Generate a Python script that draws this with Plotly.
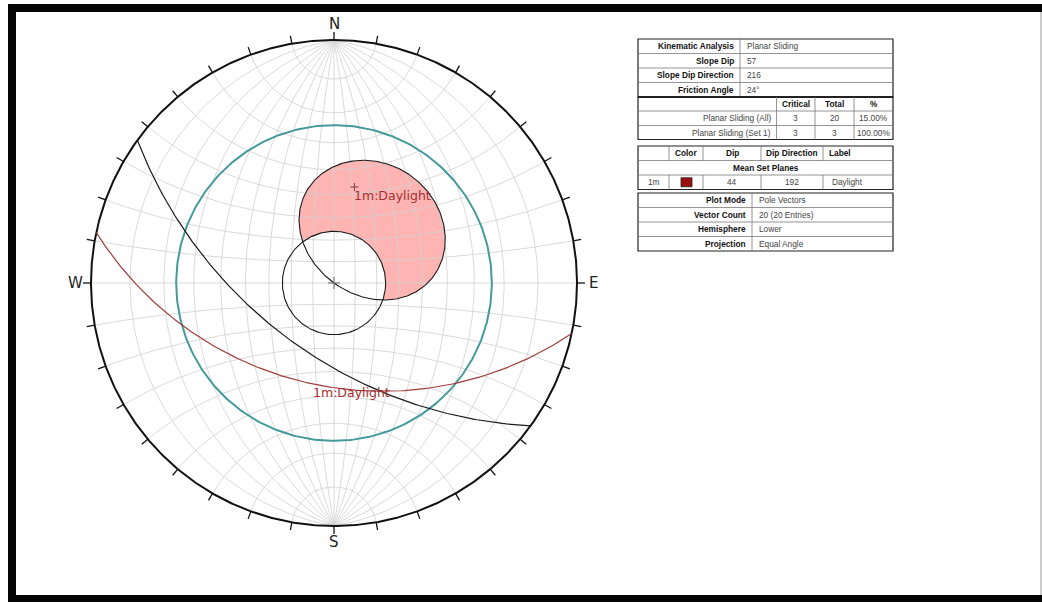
import numpy as np
import plotly.graph_objects as go

# ---------------- data ----------------
slope_dip = 57
slope_dip_dir = 216
friction_angle = 24
set_id = "1m"
set_dip = 44
set_dip_dir = 192
set_label = "Daylight"
set_color = "#9b0f0f"
info_labels = ["Kinematic Analysis", "Slope Dip", "Slope Dip Direction", "Friction Angle"]
info_values = ["Planar Sliding", "57", "216", "24°"]
crit_header = ["Critical", "Total", "%"]
crit_rows = ["Planar Sliding (All)", "Planar Sliding (Set 1)"]
crit_critical = [3, 3]
crit_total = [20, 3]
crit_pct = ["15.00%", "100.00%"]
set_header = ["Color", "Dip", "Dip Direction", "Label"]
plot_labels = ["Plot Mode", "Vector Count", "Hemisphere", "Projection"]
plot_values = ["Pole Vectors", "20 (20 Entries)", "Lower", "Equal Angle"]
compass = ["N", "E", "S", "W"]
grid_step = 10
tick_step = 10

# ---------------- geometry helpers ----------------
W, H = 1042, 602
CX, CY, R = 334, 283, 243  # stereonet centre / radius in pixels


def line_vec(trend, plunge):
    t, p = np.radians(trend), np.radians(plunge)
    return np.stack([np.cos(p) * np.sin(t), np.cos(p) * np.cos(t), np.sin(p)], axis=-1)


def proj(v):
    v = np.asarray(v, float)
    v = v / np.linalg.norm(v, axis=-1, keepdims=True)
    s = np.where(v[..., 2] < 0, -1.0, 1.0)
    v = v * s[..., None]
    return v[..., 0] / (1 + v[..., 2]), v[..., 1] / (1 + v[..., 2])


def great_circle(dd, dip, n=181):
    s = line_vec(dd - 90, 0.0)
    d = line_vec(dd, dip)
    th = np.linspace(0, np.pi, n)[:, None]
    return proj(np.cos(th) * s + np.sin(th) * d)


def small_circle(axis, u, w, beta, phi0, phi1, n=181):
    b = np.radians(beta)
    ph = np.linspace(phi0, phi1, n)[:, None]
    v = np.cos(b) * axis + np.sin(b) * (np.cos(ph) * u + np.sin(ph) * w)
    return proj(v)


def join(segs):
    xs, ys = [], []
    for x, y in segs:
        xs += list(x) + [None]
        ys += list(y) + [None]
    return xs, ys


fig = go.Figure()

# daylight envelope (poles of planes whose dip vector lies in the slope face)
th = np.radians(np.linspace(-90, 90, 361))
app = np.degrees(np.arctan(np.tan(np.radians(slope_dip)) * np.cos(th)))
env_tr = slope_dip_dir + np.degrees(th) + 180
env_x, env_y = proj(line_vec(env_tr, 90 - app))

# friction cone
fc_x, fc_y = small_circle(np.array([0, 0, 1.0]), np.array([1.0, 0, 0]), np.array([0, 1.0, 0]),
                          friction_angle, 0, 2 * np.pi, 241)
# second cone (90 - friction)
tc_x, tc_y = small_circle(np.array([0, 0, 1.0]), np.array([1.0, 0, 0]), np.array([0, 1.0, 0]),
                          90 - friction_angle, 0, 2 * np.pi, 361)

fig.add_trace(go.Scatter(x=env_x, y=env_y, mode="lines", fill="toself", fillcolor="#ffb4b4",
                         line=dict(width=0), hoverinfo="skip"))
fig.add_trace(go.Scatter(x=fc_x, y=fc_y, mode="lines", fill="toself", fillcolor="white",
                         line=dict(width=0), hoverinfo="skip"))

# Wulff net grid
segs = []
for dip in range(grid_step, 90, grid_step):
    segs.append(great_circle(90, dip))
    segs.append(great_circle(270, dip))
segs.append(great_circle(90, 90))
N = np.array([0, 1.0, 0]); E = np.array([1.0, 0, 0]); D = np.array([0, 0, 1.0])
for beta in range(grid_step, 180, grid_step):
    segs.append(small_circle(N, E, D, beta, 0, np.pi))
gx, gy = join(segs)
fig.add_trace(go.Scatter(x=gx, y=gy, mode="lines", line=dict(color="#d0d0d0", width=0.8),
                         hoverinfo="skip"))

# primitive and ticks
pa = np.radians(np.linspace(0, 360, 721))
fig.add_trace(go.Scatter(x=np.sin(pa), y=np.cos(pa), mode="lines",
                         line=dict(color="#111111", width=2), hoverinfo="skip"))
tl = 8 / R
tsegs = []
for az in range(0, 360, tick_step):
    a = np.radians(az)
    tsegs.append(([np.sin(a), (1 + tl) * np.sin(a)], [np.cos(a), (1 + tl) * np.cos(a)]))
tx, ty = join(tsegs)
fig.add_trace(go.Scatter(x=tx, y=ty, mode="lines", line=dict(color="#111111", width=1.3),
                         hoverinfo="skip"))

# circles and great circles
fig.add_trace(go.Scatter(x=tc_x, y=tc_y, mode="lines", line=dict(color="#449a9a", width=2),
                         hoverinfo="skip"))
fig.add_trace(go.Scatter(x=fc_x, y=fc_y, mode="lines", line=dict(color="#1a1a1a", width=1.1),
                         hoverinfo="skip"))
fig.add_trace(go.Scatter(x=env_x, y=env_y, mode="lines", line=dict(color="#1a1a1a", width=1.1),
                         hoverinfo="skip"))
sx, sy = great_circle(slope_dip_dir, slope_dip)
fig.add_trace(go.Scatter(x=sx, y=sy, mode="lines", line=dict(color="#1a1a1a", width=1.2),
                         hoverinfo="skip"))
mx, my = great_circle(set_dip_dir, set_dip)
fig.add_trace(go.Scatter(x=mx, y=my, mode="lines", line=dict(color="#a03c3c", width=1.2),
                         hoverinfo="skip"))

# centre cross and pole cross
cc = 6 / R
fig.add_trace(go.Scatter(x=[-cc, cc, None, 0, 0], y=[0, 0, None, -cc, cc], mode="lines",
                         line=dict(color="#666666", width=1), hoverinfo="skip"))
px_, py_ = proj(line_vec(set_dip_dir + 180, 90 - set_dip))
pc = 4 / R
fig.add_trace(go.Scatter(x=[px_ - pc, px_ + pc, None, px_, px_], y=[py_, py_, None, py_ - pc, py_ + pc],
                         mode="lines", line=dict(color="#8a3a3a", width=1), hoverinfo="skip"))
dvx, dvy = proj(line_vec(set_dip_dir, set_dip))

annos = []
lab_font = dict(family="DejaVu Sans", size=12.5, color="#a3302f")
for (lx, ly) in [(px_, py_), (dvx, dvy)]:
    annos.append(dict(x=float(lx), y=float(ly), xref="x", yref="y", text=f"{set_id}:{set_label}",
                      showarrow=False, xanchor="left", yanchor="middle", xshift=-2, yshift=-9,
                      font=lab_font))

# compass labels
for i, c in enumerate(compass):
    a = np.radians(90 * i)
    rr = 1 + 16 / R
    annos.append(dict(x=float(rr * np.sin(a)), y=float(rr * np.cos(a)), xref="x", yref="y", text=c,
                      showarrow=False, xanchor="center", yanchor="middle",
                      font=dict(family="DejaVu Sans", size=15, color="#222222")))

# ---------------- table (pixel layout -> paper coords) ----------------
def fx(x):
    return x / W


def fy(y):
    return 1 - y / H


shapes = []


def hline(x0, x1, y, color="#7a7a7a", width=0.8):
    shapes.append(dict(type="line", xref="paper", yref="paper", x0=fx(x0), x1=fx(x1), y0=fy(y), y1=fy(y),
                       line=dict(color=color, width=width)))


def vline(x, y0, y1, color="#7a7a7a", width=0.8):
    shapes.append(dict(type="line", xref="paper", yref="paper", x0=fx(x), x1=fx(x), y0=fy(y0), y1=fy(y1),
                       line=dict(color=color, width=width)))


def box(x0, y0, x1, y1, color="#222222", width=1.2, fill=None):
    shapes.append(dict(type="rect", xref="paper", yref="paper", x0=fx(x0), x1=fx(x1), y0=fy(y0), y1=fy(y1),
                       line=dict(color=color, width=width), fillcolor=fill))


def txt(x, y, s, anchor="left", bold=False, color="#444444"):
    annos.append(dict(x=fx(x), y=fy(y), xref="paper", yref="paper",
                      text=f"<b>{s}</b>" if bold else s, showarrow=False,
                      xanchor=anchor, yanchor="middle",
                      font=dict(family="Liberation Sans", size=8.3, color="#111111" if bold else color)))


TL, TR = 638, 893
# section 1
s1 = [39, 53.5, 68, 82.5, 97]
box(TL, s1[0], TR, s1[-1])
for y in s1[1:-1]:
    hline(TL, TR, y)
vline(740, s1[0], s1[-1])
for i, (lab, val) in enumerate(zip(info_labels, info_values)):
    yc = (s1[i] + s1[i + 1]) / 2
    txt(736, yc, lab, "right", True)
    txt(745, yc, val, "left")

# section 2
s2 = [97, 111, 125.5, 139.5]
box(TL, s2[0], TR, s2[-1])
hline(TL, TR, 97, "#222222", 1.8)
for y in s2[1:-1]:
    hline(TL, TR, y)
c2 = [776.5, 815, 854, TR]
for x in c2[:-1]:
    vline(x, s2[0], s2[-1])
for j, h in enumerate(crit_header):
    txt((c2[j] + c2[j + 1]) / 2, (s2[0] + s2[1]) / 2, h, "center", True)
for i, lab in enumerate(crit_rows):
    yc = (s2[i + 1] + s2[i + 2]) / 2
    txt(773, yc, lab, "right")
    vals = [crit_critical[i], crit_total[i], crit_pct[i]]
    for j, v in enumerate(vals):
        txt((c2[j] + c2[j + 1]) / 2, yc, str(v), "center")

# section 3
s3 = [146, 160.5, 175, 189.5]
box(TL, s3[0], TR, s3[-1])
for y in s3[1:-1]:
    hline(TL, TR, y)
c3 = [TL, 669, 703, 761, 823, TR]
for x in c3[1:-1]:
    vline(x, s3[0], s3[1])
    vline(x, s3[2], s3[3])
h_c = (s3[0] + s3[1]) / 2
txt((c3[1] + c3[2]) / 2, h_c, set_header[0], "center", True)
txt((c3[2] + c3[3]) / 2, h_c, set_header[1], "center", True)
txt((c3[3] + c3[4]) / 2, h_c, set_header[2], "center", True)
txt(c3[4] + 4, h_c, set_header[3], "left", True)
txt((TL + TR) / 2, (s3[1] + s3[2]) / 2, "Mean Set Planes", "center", True)
r_c = (s3[2] + s3[3]) / 2
txt((c3[0] + c3[1]) / 2, r_c, set_id, "center")
box(681, r_c - 4.5, 692, r_c + 4.5, color="#222222", width=0.8, fill=set_color)
txt((c3[2] + c3[3]) / 2, r_c, str(set_dip), "center")
txt((c3[3] + c3[4]) / 2, r_c, str(set_dip_dir), "center")
txt(c3[4] + 7, r_c, set_label, "left")

# section 4
s4 = [193, 207.5, 222, 236.5, 251]
box(TL, s4[0], TR, s4[-1])
for y in s4[1:-1]:
    hline(TL, TR, y)
vline(752, s4[0], s4[-1])
for i, (lab, val) in enumerate(zip(plot_labels, plot_values)):
    yc = (s4[i] + s4[i + 1]) / 2
    txt(748, yc, lab, "right", True)
    txt(757, yc, val, "left")

# outer frame of the picture
for (x0, y0, x1, y1) in [(8, 4, W, 12), (8, 4, 16, H), (8, 595, W, H)]:
    shapes.append(dict(type="rect", xref="paper", yref="paper", x0=fx(x0), x1=fx(x1), y0=fy(y1), y1=fy(y0),
                       line=dict(width=0), fillcolor="#050505"))
vline(1041, 12, 595, "#9a9a9a", 1)

fig.update_layout(
    width=W, height=H, autosize=False,
    margin=dict(l=0, r=0, t=0, b=0),
    paper_bgcolor="white", plot_bgcolor="white",
    showlegend=False,
    xaxis=dict(range=[-CX / R, (W - CX) / R], visible=False, fixedrange=True),
    yaxis=dict(range=[-(H - CY) / R, CY / R], visible=False, fixedrange=True),
    shapes=shapes, annotations=annos,
)
fig.write_html("out.html", config={"displayModeBar": False})
